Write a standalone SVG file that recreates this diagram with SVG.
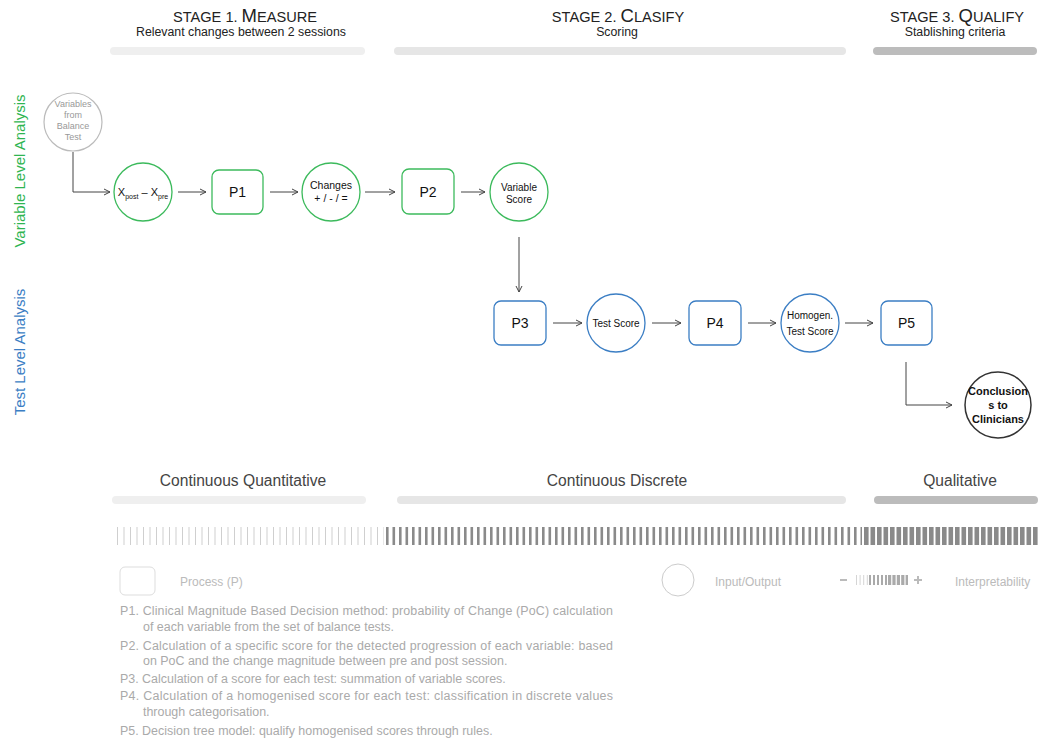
<svg xmlns="http://www.w3.org/2000/svg" width="1045" height="738" viewBox="0 0 1045 738">
<defs>
<marker id="arr" markerWidth="8" markerHeight="8" refX="7" refY="4" orient="auto" markerUnits="userSpaceOnUse">
<path d="M1,1 L7,4 L1,7" fill="none" stroke="#444" stroke-width="1"/>
</marker>
<style>
text{font-family:"Liberation Sans",Arial,sans-serif;}
.title{font-size:14.6px;fill:#222;text-anchor:middle;}
.cap{font-size:18.5px;}
.sub{font-size:12.3px;fill:#222;text-anchor:middle;}
.gp{fill:#fff;stroke:#3cba5c;stroke-width:1.3;}
.bp{fill:#fff;stroke:#3b7ec4;stroke-width:1.3;}
.lbl{font-size:14px;fill:#111;text-anchor:middle;}
.sm{font-size:10.5px;fill:#111;text-anchor:middle;}
.nt{font-size:10px;fill:#111;text-anchor:middle;}
.con{fill:none;stroke:#444;stroke-width:1;marker-end:url(#arr);}
.cat{font-size:15.6px;fill:#444;text-anchor:middle;}
.desc{font-size:12.45px;fill:#aaa;}
.leg{font-size:12px;fill:#bbb;}
</style>
</defs>

<g id="headers">
<text class="title" x="245" y="22">STAGE 1. <tspan class="cap">M</tspan>EASURE</text>
<text class="sub" x="241" y="36">Relevant changes between 2 sessions</text>
<text class="title" x="618" y="22">STAGE 2. <tspan class="cap">C</tspan>LASIFY</text>
<text class="sub" x="617" y="36">Scoring</text>
<text class="title" x="957" y="22">STAGE 3. <tspan class="cap">Q</tspan>UALIFY</text>
<text class="sub" x="955" y="36">Stablishing criteria</text>
<line x1="114" y1="51" x2="361" y2="51" stroke="#efefef" stroke-width="8" stroke-linecap="round"/>
<line x1="398" y1="51" x2="842" y2="51" stroke="#e6e6e6" stroke-width="8" stroke-linecap="round"/>
<line x1="877" y1="51" x2="1033" y2="51" stroke="#bcbcbc" stroke-width="8" stroke-linecap="round"/>
</g>

<g id="side-labels">
<text x="25" y="171" transform="rotate(-90 25 171)" text-anchor="middle" font-size="15" fill="#2fb551">Variable Level Analysis</text>
<text x="25" y="352" transform="rotate(-90 25 352)" text-anchor="middle" font-size="15" fill="#3b7ec4">Test Level Analysis</text>
</g>

<g id="connectors">
<path class="con" d="M73,152 V192 H110"/>
<line class="con" x1="178" y1="192" x2="206" y2="192"/>
<line class="con" x1="270" y1="192" x2="298" y2="192"/>
<line class="con" x1="365" y1="192" x2="395" y2="192"/>
<line class="con" x1="461" y1="192" x2="485" y2="192"/>
<line class="con" x1="519" y1="237" x2="519" y2="292"/>
<line class="con" x1="553" y1="323" x2="582" y2="323"/>
<line class="con" x1="652" y1="323" x2="681" y2="323"/>
<line class="con" x1="748" y1="323" x2="776" y2="323"/>
<line class="con" x1="845" y1="323" x2="873" y2="323"/>
<path class="con" d="M906,362 V405 H952"/>
</g>

<g id="n-variables">
<circle cx="73" cy="122" r="29" fill="#fff" stroke="#bbb" stroke-width="1.2"/>
<text x="73" y="107" font-size="9" fill="#999" text-anchor="middle">Variables</text>
<text x="73" y="118" font-size="9" fill="#999" text-anchor="middle">from</text>
<text x="73" y="129" font-size="9" fill="#999" text-anchor="middle">Balance</text>
<text x="73" y="140" font-size="9" fill="#999" text-anchor="middle">Test</text>
</g>
<g id="n-xdiff">
<circle class="gp" cx="143" cy="192" r="29"/>
<text x="143" y="196" font-size="11" fill="#111" text-anchor="middle">X<tspan font-size="7" dy="3" fill="#111">post</tspan><tspan dy="-3" fill="#111"> – X</tspan><tspan font-size="7" dy="3" fill="#111">pre</tspan></text>
</g>
<g id="n-p1">
<rect class="gp" x="212" y="170" width="51" height="44" rx="7"/>
<text class="lbl" x="237.5" y="197">P1</text>
</g>
<g id="n-changes">
<circle class="gp" cx="331" cy="192" r="29"/>
<text class="sm" x="331" y="189">Changes</text>
<text class="sm" x="331" y="202">+ / - / =</text>
</g>
<g id="n-p2">
<rect class="gp" x="402" y="169" width="52" height="45" rx="7"/>
<text class="lbl" x="428" y="197">P2</text>
</g>
<g id="n-varscore">
<circle class="gp" cx="519" cy="192" r="29"/>
<text class="nt" x="519" y="191">Variable</text>
<text class="nt" x="519" y="203">Score</text>
</g>
<g id="n-p3">
<rect class="bp" x="494" y="301" width="52" height="44" rx="7"/>
<text class="lbl" x="520" y="328">P3</text>
</g>
<g id="n-testscore">
<circle class="bp" cx="616" cy="323" r="29"/>
<text class="nt" x="616" y="327">Test Score</text>
</g>
<g id="n-p4">
<rect class="bp" x="689" y="301" width="52" height="44" rx="7"/>
<text class="lbl" x="715" y="328">P4</text>
</g>
<g id="n-homogen">
<circle class="bp" cx="810" cy="323" r="29"/>
<text class="nt" x="810" y="319">Homogen.</text>
<text class="nt" x="810" y="335">Test Score</text>
</g>
<g id="n-p5">
<rect class="bp" x="881" y="301" width="51" height="44" rx="7"/>
<text class="lbl" x="906.5" y="328">P5</text>
</g>
<g id="n-conclusions">
<circle cx="998" cy="405" r="33" fill="#fff" stroke="#333" stroke-width="1.5"/>
<text x="998" y="395" font-size="11" font-weight="bold" fill="#111" text-anchor="middle">Conclusion</text>
<text x="998" y="409" font-size="11" font-weight="bold" fill="#111" text-anchor="middle">s to</text>
<text x="998" y="423" font-size="11" font-weight="bold" fill="#111" text-anchor="middle">Clinicians</text>
</g>

<g id="categories">
<text class="cat" x="243" y="486">Continuous Quantitative</text>
<text class="cat" x="617" y="486">Continuous Discrete</text>
<text class="cat" x="960" y="486">Qualitative</text>
<line x1="116" y1="500" x2="362" y2="500" stroke="#efefef" stroke-width="8" stroke-linecap="round"/>
<line x1="401" y1="500" x2="842" y2="500" stroke="#e6e6e6" stroke-width="8" stroke-linecap="round"/>
<line x1="878" y1="500" x2="1034" y2="500" stroke="#bcbcbc" stroke-width="8" stroke-linecap="round"/>
</g>

<g id="scale-ticks">
<line x1="117" y1="536" x2="384" y2="536" stroke="#cfcfcf" stroke-width="18" stroke-dasharray="1 5.5"/>
<line x1="386" y1="536" x2="862" y2="536" stroke="#8a8a8a" stroke-width="18" stroke-dasharray="2.6 3.9"/>
<line x1="864" y1="536" x2="1038" y2="536" stroke="#8a8a8a" stroke-width="18" stroke-dasharray="4.6 1.9"/>
</g>

<g id="legend">
<rect x="120" y="567" width="35" height="28" rx="5" fill="#fff" stroke="#ddd" stroke-width="1"/>
<text class="leg" x="180" y="586">Process (P)</text>
<circle cx="678" cy="580" r="16" fill="#fff" stroke="#ccc" stroke-width="1"/>
<text class="leg" x="715" y="586">Input/Output</text>
<line x1="840" y1="580" x2="847" y2="580" stroke="#bbb" stroke-width="2"/>
<line x1="856" y1="580" x2="871" y2="580" stroke="#d5d5d5" stroke-width="10" stroke-dasharray="1 2.6"/>
<line x1="869" y1="580" x2="887" y2="580" stroke="#aaa" stroke-width="10" stroke-dasharray="2 2"/>
<line x1="888" y1="580" x2="908" y2="580" stroke="#aaa" stroke-width="10" stroke-dasharray="3.2 1.2"/>
<line x1="914" y1="580" x2="922" y2="580" stroke="#bbb" stroke-width="2"/>
<line x1="918" y1="576" x2="918" y2="584" stroke="#bbb" stroke-width="2"/>
<text class="leg" x="955" y="586">Interpretability</text>
</g>

<g id="descriptions">
<text class="desc" x="120" y="615" textLength="493" lengthAdjust="spacing">P1. Clinical Magnitude Based Decision method: probability of Change (PoC) calculation</text>
<text class="desc" x="143" y="631">of each variable from the set of balance tests.</text>
<text class="desc" x="120" y="650" textLength="493" lengthAdjust="spacing">P2. Calculation of a specific score for the detected progression of each variable: based</text>
<text class="desc" x="143" y="665">on PoC and the change magnitude between pre and post session.</text>
<text class="desc" x="120" y="683">P3. Calculation of a score for each test: summation of variable scores.</text>
<text class="desc" x="120" y="700" textLength="493" lengthAdjust="spacing">P4. Calculation of a homogenised score for each test: classification in discrete values</text>
<text class="desc" x="143" y="716">through categorisation.</text>
<text class="desc" x="120" y="735">P5. Decision tree model: qualify homogenised scores through rules.</text>
</g>
</svg>
